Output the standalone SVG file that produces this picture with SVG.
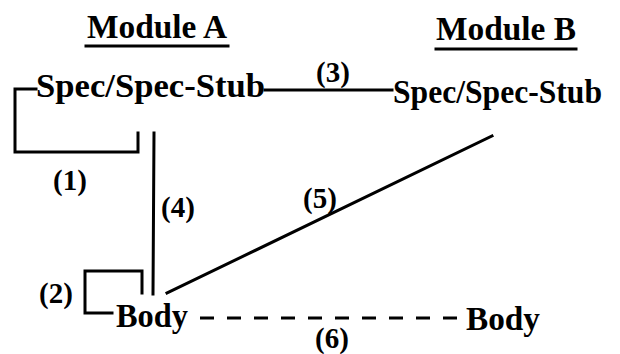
<svg xmlns="http://www.w3.org/2000/svg" width="620" height="354" viewBox="0 0 620 354">
<style>
text{font-family:"Liberation Serif","DejaVu Serif",serif;font-weight:bold;fill:#000}
.t{font-size:33px}
.lb{font-size:29px;text-anchor:middle}
.ln{stroke:#000;stroke-width:3;fill:none;stroke-linecap:square}
.ds{stroke-dasharray:14 13;stroke-linecap:butt}
</style>
<rect width="620" height="354" fill="#fff"/>
<g id="headers">
<g id="moduleA"><text class="t" x="87" y="38" textLength="140" lengthAdjust="spacingAndGlyphs">Module A</text><line class="ln" x1="86" y1="46" x2="228" y2="46"/></g>
<g id="moduleB"><text class="t" x="436" y="40" textLength="140" lengthAdjust="spacingAndGlyphs">Module B</text><line class="ln" x1="436" y1="49" x2="576" y2="49"/></g>
</g>
<g id="connectors">
<path class="ln" d="M36 89 H15 V152 H138 V133"/>
<text class="lb" x="70" y="190">(1)</text>
<path class="ln" d="M112 313 H85 V271 H142 V293"/>
<text class="lb" x="56" y="303">(2)</text>
<line class="ln" x1="265" y1="90" x2="392" y2="90"/>
<text class="lb" x="333" y="82">(3)</text>
<line class="ln" x1="154" y1="133" x2="153" y2="294"/>
<text class="lb" x="178" y="217">(4)</text>
<line class="ln" x1="492" y1="136" x2="167" y2="293"/>
<text class="lb" x="320" y="208">(5)</text>
<line class="ln ds" x1="200" y1="318" x2="457" y2="318"/>
<text class="lb" x="332" y="348">(6)</text>
</g>
<g id="specA"><text class="t" x="36" y="97" textLength="229" lengthAdjust="spacingAndGlyphs">Spec/Spec-Stub</text></g>
<g id="specB"><text class="t" x="393" y="103" textLength="209" lengthAdjust="spacingAndGlyphs">Spec/Spec-Stub</text></g>
<g id="bodyA"><text class="t" x="116" y="327" textLength="72" lengthAdjust="spacingAndGlyphs">Body</text></g>
<g id="bodyB"><text class="t" x="466" y="330" textLength="74" lengthAdjust="spacingAndGlyphs">Body</text></g>
</svg>
